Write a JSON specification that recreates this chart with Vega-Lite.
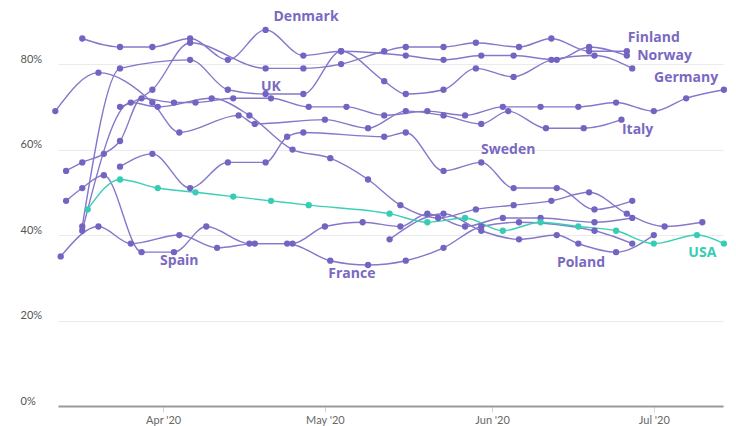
{
  "$schema": "https://vega.github.io/schema/vega-lite/v6.json",
  "width": 665,
  "height": 406,
  "autosize": "none",
  "padding": {"left": 58, "top": 0, "right": 13, "bottom": 20},
  "background": "white",
  "config": {"view": {"stroke": null}, "font": "Lato"},
  "datasets": {
    "series": [
      {"country":"Denmark","date":"2020-03-17","value":86},
      {"country":"Denmark","date":"2020-03-24","value":84},
      {"country":"Denmark","date":"2020-03-30","value":84},
      {"country":"Denmark","date":"2020-04-06","value":86},
      {"country":"Denmark","date":"2020-04-13","value":81},
      {"country":"Denmark","date":"2020-04-20","value":88},
      {"country":"Denmark","date":"2020-04-27","value":82},
      {"country":"Denmark","date":"2020-05-04","value":83},
      {"country":"Denmark","date":"2020-05-16","value":82},
      {"country":"Denmark","date":"2020-05-23","value":81},
      {"country":"Denmark","date":"2020-05-30","value":82},
      {"country":"Denmark","date":"2020-06-05","value":82},
      {"country":"Denmark","date":"2020-06-13","value":81},
      {"country":"Denmark","date":"2020-06-19","value":84},
      {"country":"Denmark","date":"2020-06-26","value":82},

      {"country":"Finland","date":"2020-03-24","value":70},
      {"country":"Finland","date":"2020-03-30","value":74},
      {"country":"Finland","date":"2020-04-06","value":85},
      {"country":"Finland","date":"2020-04-20","value":79},
      {"country":"Finland","date":"2020-04-27","value":79},
      {"country":"Finland","date":"2020-05-04","value":80},
      {"country":"Finland","date":"2020-05-12","value":83},
      {"country":"Finland","date":"2020-05-16","value":84},
      {"country":"Finland","date":"2020-05-23","value":84},
      {"country":"Finland","date":"2020-05-29","value":85},
      {"country":"Finland","date":"2020-06-06","value":84},
      {"country":"Finland","date":"2020-06-12","value":86},
      {"country":"Finland","date":"2020-06-19","value":83},
      {"country":"Finland","date":"2020-06-26","value":83},

      {"country":"Norway","date":"2020-03-17","value":42},
      {"country":"Norway","date":"2020-03-24","value":79},
      {"country":"Norway","date":"2020-04-06","value":81},
      {"country":"Norway","date":"2020-04-13","value":74},
      {"country":"Norway","date":"2020-04-20","value":73},
      {"country":"Norway","date":"2020-04-27","value":73},
      {"country":"Norway","date":"2020-05-04","value":83},
      {"country":"Norway","date":"2020-05-12","value":76},
      {"country":"Norway","date":"2020-05-16","value":73},
      {"country":"Norway","date":"2020-05-23","value":74},
      {"country":"Norway","date":"2020-05-29","value":79},
      {"country":"Norway","date":"2020-06-05","value":77},
      {"country":"Norway","date":"2020-06-12","value":81},
      {"country":"Norway","date":"2020-06-20","value":82},
      {"country":"Norway","date":"2020-06-27","value":79},

      {"country":"Germany","date":"2020-03-14","value":55},
      {"country":"Germany","date":"2020-03-17","value":57},
      {"country":"Germany","date":"2020-03-21","value":59},
      {"country":"Germany","date":"2020-03-24","value":62},
      {"country":"Germany","date":"2020-03-28","value":72},
      {"country":"Germany","date":"2020-04-03","value":71},
      {"country":"Germany","date":"2020-04-07","value":71},
      {"country":"Germany","date":"2020-04-14","value":72},
      {"country":"Germany","date":"2020-04-21","value":72},
      {"country":"Germany","date":"2020-04-28","value":70},
      {"country":"Germany","date":"2020-05-05","value":70},
      {"country":"Germany","date":"2020-05-12","value":68},
      {"country":"Germany","date":"2020-05-20","value":69},
      {"country":"Germany","date":"2020-05-27","value":68},
      {"country":"Germany","date":"2020-06-03","value":70},
      {"country":"Germany","date":"2020-06-10","value":70},
      {"country":"Germany","date":"2020-06-17","value":70},
      {"country":"Germany","date":"2020-06-24","value":71},
      {"country":"Germany","date":"2020-07-01","value":69},
      {"country":"Germany","date":"2020-07-07","value":72},
      {"country":"Germany","date":"2020-07-14","value":74},

      {"country":"UK","date":"2020-03-17","value":41},
      {"country":"UK","date":"2020-03-26","value":71},
      {"country":"UK","date":"2020-03-31","value":70},
      {"country":"UK","date":"2020-04-10","value":72},
      {"country":"UK","date":"2020-04-17","value":68},
      {"country":"UK","date":"2020-04-25","value":60},
      {"country":"UK","date":"2020-05-02","value":58},
      {"country":"UK","date":"2020-05-09","value":53},
      {"country":"UK","date":"2020-05-15","value":47},
      {"country":"UK","date":"2020-05-22","value":44},
      {"country":"UK","date":"2020-05-29","value":46},
      {"country":"UK","date":"2020-06-05","value":47},
      {"country":"UK","date":"2020-06-12","value":48},
      {"country":"UK","date":"2020-06-19","value":50},
      {"country":"UK","date":"2020-06-26","value":45},
      {"country":"UK","date":"2020-07-03","value":42},
      {"country":"UK","date":"2020-07-10","value":43},

      {"country":"Italy","date":"2020-03-12","value":69},
      {"country":"Italy","date":"2020-03-20","value":78},
      {"country":"Italy","date":"2020-03-30","value":71},
      {"country":"Italy","date":"2020-04-04","value":64},
      {"country":"Italy","date":"2020-04-15","value":68},
      {"country":"Italy","date":"2020-04-18","value":66},
      {"country":"Italy","date":"2020-05-01","value":67},
      {"country":"Italy","date":"2020-05-09","value":65},
      {"country":"Italy","date":"2020-05-16","value":69},
      {"country":"Italy","date":"2020-05-23","value":68},
      {"country":"Italy","date":"2020-05-30","value":66},
      {"country":"Italy","date":"2020-06-04","value":69},
      {"country":"Italy","date":"2020-06-11","value":65},
      {"country":"Italy","date":"2020-06-18","value":65},
      {"country":"Italy","date":"2020-06-25","value":67},

      {"country":"Sweden","date":"2020-03-24","value":56},
      {"country":"Sweden","date":"2020-03-30","value":59},
      {"country":"Sweden","date":"2020-04-06","value":51},
      {"country":"Sweden","date":"2020-04-13","value":57},
      {"country":"Sweden","date":"2020-04-20","value":57},
      {"country":"Sweden","date":"2020-04-24","value":63},
      {"country":"Sweden","date":"2020-04-27","value":64},
      {"country":"Sweden","date":"2020-05-12","value":63},
      {"country":"Sweden","date":"2020-05-16","value":64},
      {"country":"Sweden","date":"2020-05-23","value":55},
      {"country":"Sweden","date":"2020-05-30","value":57},
      {"country":"Sweden","date":"2020-06-05","value":51},
      {"country":"Sweden","date":"2020-06-13","value":51},
      {"country":"Sweden","date":"2020-06-20","value":46},
      {"country":"Sweden","date":"2020-06-27","value":48},

      {"country":"Spain","date":"2020-03-13","value":35},
      {"country":"Spain","date":"2020-03-20","value":42},
      {"country":"Spain","date":"2020-03-26","value":38},
      {"country":"Spain","date":"2020-04-04","value":40},
      {"country":"Spain","date":"2020-04-11","value":37},
      {"country":"Spain","date":"2020-04-18","value":38},
      {"country":"Spain","date":"2020-04-25","value":38},
      {"country":"Spain","date":"2020-05-01","value":42},
      {"country":"Spain","date":"2020-05-08","value":43},
      {"country":"Spain","date":"2020-05-15","value":42},
      {"country":"Spain","date":"2020-05-20","value":45},
      {"country":"Spain","date":"2020-05-27","value":42},
      {"country":"Spain","date":"2020-06-03","value":44},
      {"country":"Spain","date":"2020-06-10","value":44},
      {"country":"Spain","date":"2020-06-20","value":43},
      {"country":"Spain","date":"2020-06-27","value":44},

      {"country":"France","date":"2020-03-14","value":48},
      {"country":"France","date":"2020-03-17","value":51},
      {"country":"France","date":"2020-03-21","value":54},
      {"country":"France","date":"2020-03-28","value":36},
      {"country":"France","date":"2020-04-03","value":36},
      {"country":"France","date":"2020-04-09","value":42},
      {"country":"France","date":"2020-04-17","value":38},
      {"country":"France","date":"2020-04-24","value":38},
      {"country":"France","date":"2020-05-02","value":34},
      {"country":"France","date":"2020-05-09","value":33},
      {"country":"France","date":"2020-05-16","value":34},
      {"country":"France","date":"2020-05-23","value":37},
      {"country":"France","date":"2020-05-30","value":42},
      {"country":"France","date":"2020-06-06","value":43},
      {"country":"France","date":"2020-06-20","value":41},
      {"country":"France","date":"2020-06-27","value":38},

      {"country":"Poland","date":"2020-05-13","value":39},
      {"country":"Poland","date":"2020-05-23","value":45},
      {"country":"Poland","date":"2020-05-30","value":41},
      {"country":"Poland","date":"2020-06-06","value":39},
      {"country":"Poland","date":"2020-06-13","value":40},
      {"country":"Poland","date":"2020-06-17","value":38},
      {"country":"Poland","date":"2020-06-24","value":36},
      {"country":"Poland","date":"2020-07-01","value":40},

      {"country":"USA","date":"2020-03-18","value":46},
      {"country":"USA","date":"2020-03-24","value":53},
      {"country":"USA","date":"2020-03-31","value":51},
      {"country":"USA","date":"2020-04-07","value":50},
      {"country":"USA","date":"2020-04-14","value":49},
      {"country":"USA","date":"2020-04-21","value":48},
      {"country":"USA","date":"2020-04-28","value":47},
      {"country":"USA","date":"2020-05-13","value":45},
      {"country":"USA","date":"2020-05-20","value":43},
      {"country":"USA","date":"2020-05-27","value":44},
      {"country":"USA","date":"2020-06-03","value":41},
      {"country":"USA","date":"2020-06-10","value":43},
      {"country":"USA","date":"2020-06-17","value":42},
      {"country":"USA","date":"2020-06-24","value":41},
      {"country":"USA","date":"2020-07-01","value":38},
      {"country":"USA","date":"2020-07-09","value":40},
      {"country":"USA","date":"2020-07-14","value":38}
    ],
    "labels": [
      {"country":"Denmark","date":"2020-04-27T12:00:00Z","value":91},
      {"country":"Finland","date":"2020-07-01","value":86},
      {"country":"Norway","date":"2020-07-03","value":81.9},
      {"country":"Germany","date":"2020-07-07","value":76.7},
      {"country":"Italy","date":"2020-06-28","value":64.6},
      {"country":"UK","date":"2020-04-21","value":74.6},
      {"country":"Sweden","date":"2020-06-04","value":59.9},
      {"country":"Spain","date":"2020-04-04","value":33.9},
      {"country":"France","date":"2020-05-06","value":30.9},
      {"country":"Poland","date":"2020-06-17T12:00:00Z","value":33.5},
      {"country":"USA","date":"2020-07-10","value":35.8}
    ]
  },
  "encoding": {
    "x": {
      "field": "date",
      "type": "temporal",
      "scale": {
        "type": "utc",
        "domain": [
          {"year": 2020, "month": 3, "date": 12, "hours": 12, "utc": true},
          {"year": 2020, "month": 7, "date": 13, "hours": 20, "utc": true}
        ]
      },
      "axis": {
        "title": null,
        "format": "%b '%y",
        "values": [
          {"year": 2020, "month": 4, "date": 1, "utc": true},
          {"year": 2020, "month": 5, "date": 1, "utc": true},
          {"year": 2020, "month": 6, "date": 1, "utc": true},
          {"year": 2020, "month": 7, "date": 1, "utc": true}
        ],
        "grid": false,
        "domainColor": "#9a9a9a",
        "domainWidth": 2,
        "tickColor": "#d4d4d4",
        "tickSize": 6,
        "labelColor": "#666666",
        "labelFontSize": 11,
        "labelPadding": 2
      }
    },
    "y": {
      "field": "value",
      "type": "quantitative",
      "scale": {"domain": [0, 95], "nice": false},
      "axis": {
        "title": null,
        "values": [0, 20, 40, 60, 80],
        "labelExpr": "datum.value + '%'",
        "domain": false,
        "ticks": false,
        "labelAlign": "left",
        "labelBaseline": "bottom",
        "labelPadding": 38,
        "gridColor": "#ebebeb",
        "labelColor": "#555555",
        "labelFontSize": 11
      }
    }
  },
  "layer": [
    {
      "data": {"name": "series"},
      "mark": {"type": "line", "interpolate": "monotone", "strokeWidth": 1.4},
      "encoding": {
        "detail": {"field": "country"},
        "color": {"condition": {"test": "datum.country === 'USA'", "value": "#3ccfb6"}, "value": "#8677ca"}
      }
    },
    {
      "data": {"name": "series"},
      "mark": {"type": "point", "filled": true, "size": 40, "opacity": 1},
      "encoding": {
        "color": {"condition": {"test": "datum.country === 'USA'", "value": "#36cdb4"}, "value": "#7464c2"}
      }
    },
    {
      "data": {"name": "labels"},
      "mark": {"type": "text", "font": "Open Sans", "fontSize": 14, "fontWeight": "bold", "align": "center", "baseline": "middle"},
      "encoding": {
        "text": {"field": "country"},
        "color": {"condition": {"test": "datum.country === 'USA'", "value": "#36cdb4"}, "value": "#7a69c2"}
      }
    }
  ]
}
